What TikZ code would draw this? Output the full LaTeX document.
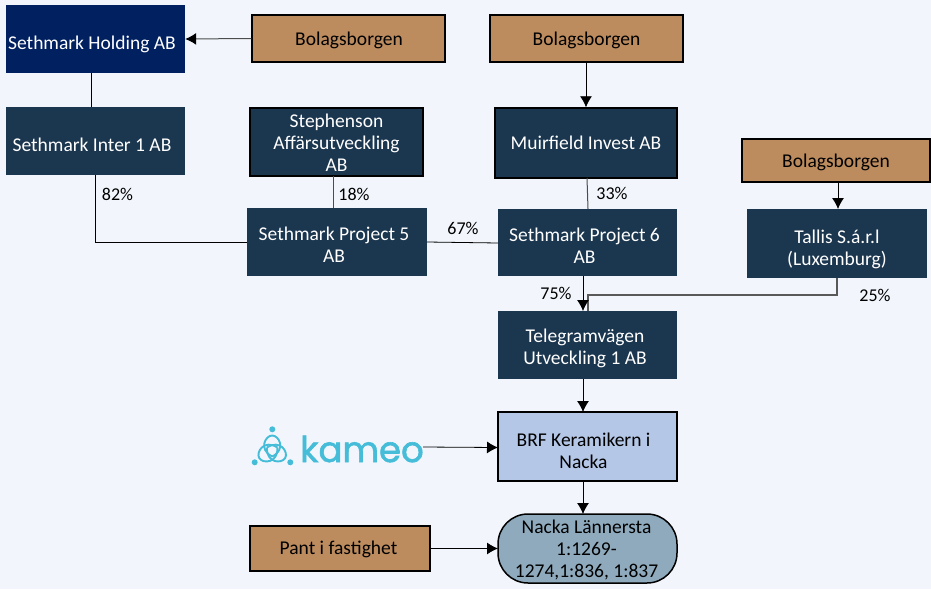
\documentclass[tikz,border=0pt]{standalone}
\usepackage{fontspec}
\setmainfont{Carlito}
\newfontfamily\logofont[FakeBold=1.6]{Poppins}
\usetikzlibrary{arrows.meta,calc}
\definecolor{bgc}{HTML}{F2F6FC}
\definecolor{navyc}{HTML}{002060}
\definecolor{darkc}{HTML}{1B364F}
\definecolor{tanc}{HTML}{BC8C5F}
\definecolor{bluec}{HTML}{B4C7E7}
\definecolor{greyc}{HTML}{8FAABD}
\definecolor{tealc}{HTML}{45BCD8}
\newcommand\tx[3]{\raisebox{#2}[\height][\depth]{\kern#1\begin{tabular}{@{}c@{}}#3\end{tabular}\kern-#1}}
\tikzset{
  boxat/.style n args={4}{minimum width=#3-#1,minimum height=#4-#2,at={({(#1+#3)/2},{(#2+#4)/2})}},
  base/.style={inner sep=0pt,font=\fontsize{19.5}{22}\selectfont},
  dark/.style={base,fill=darkc,text=white},
  darkb/.style={dark,draw=black,line width=1.5pt},
  tan/.style={base,fill=tanc,draw=black,line width=1.5pt,text=black},
  conn/.style={line width=0.8pt,draw=black},
  gconn/.style={line width=1pt,draw=black!70},
  arr/.style={conn,-{Latex[length=11pt,width=12pt,black]}},
  pct/.style={inner sep=0pt,font=\fontsize{18}{20}\selectfont,text=black}
}
\begin{document}
\begin{tikzpicture}[x=1pt,y=-1pt]
\useasboundingbox (0,0) rectangle (931,589);
\fill[bgc] (0,0) rectangle (931,589);
\node[base,fill=navyc,text=white,boxat={6}{5}{185}{73}] (holding) {\tx{-3.5pt}{-6pt}{Sethmark Holding AB}};
\node[tan,boxat={252}{15}{445}{62}] (bb1) {\tx{0.5pt}{-3pt}{Bolagsborgen}};
\node[tan,boxat={490}{15}{683}{62}] (bb2) {\tx{0pt}{-3pt}{Bolagsborgen}};
\node[dark,boxat={6}{107}{185}{175}] (inter) {\tx{-3.5pt}{-6pt}{Sethmark Inter 1 AB}};
\node[darkb,boxat={250}{108}{423}{176}] (steph) {\tx{0pt}{-3pt}{Stephenson\\Affärsutveckling\\AB}};
\node[darkb,boxat={495}{108}{677}{178}] (muir) {\tx{0pt}{-2pt}{Muirfield Invest AB}};
\node[tan,boxat={742}{139}{930}{182}] (bb3) {\tx{0pt}{-3pt}{Bolagsborgen}};
\node[dark,boxat={247}{208}{427}{276}] (p5) {\tx{-3pt}{-5.5pt}{Sethmark Project 5\\AB}};
\node[dark,boxat={498}{209}{677}{276}] (p6) {\tx{-3pt}{-6pt}{Sethmark Project 6\\AB}};
\node[dark,boxat={747}{209}{927}{278}] (tallis) {\tx{0pt}{-6.5pt}{Tallis S.á.r.l\\(Luxemburg)}};
\node[dark,boxat={498}{311}{677}{379}] (tele) {\tx{-2.5pt}{-4.5pt}{Telegramvägen\\Utveckling 1 AB}};
\node[base,fill=bluec,draw=black,line width=1.5pt,text=black,boxat={498}{412}{677}{481}] (brf) {\tx{-4pt}{-6.5pt}{BRF Keramikern i\\Nacka}};
\node[base,fill=greyc,draw=black,line width=1.5pt,text=black,rounded corners=30pt,boxat={498}{514}{677}{583}] (nacka) {\tx{-1pt}{-3pt}{Nacka Lännersta\\1:1269-\\1274,1:836, 1:837}};
\node[tan,boxat={250}{526}{430}{571}] (pant) {\tx{-1.5pt}{-2pt}{Pant i fastighet}};
% kameo logo
\node[inner sep=0pt,anchor=base,text=tealc,font=\logofont\fontsize{35.5}{36}\selectfont] (kameo) at (362,462) {kameo};
\fill[tealc] (272.3,429.3) circle (3);
\fill[tealc] (254.7,462.3) circle (3);
\fill[tealc] (290.3,462.3) circle (3);
\foreach \a in {0,120,240}{
  \draw[tealc,line width=1.9pt,shift={(272.2,450.5)},rotate=\a]
    (0,6) .. controls (-14,-1) and (-7,-15) .. (0,-15) .. controls (7,-15) and (14,-1) .. (0,6);
}
% connectors
\draw[conn] (holding.south -| 91.5,0) -- (inter.north -| 91.5,0);
\draw[arr,draw=black!70,line width=1pt] (bb1.west) -- (holding.east);
\draw[arr] (bb2.south) ++(-0.5,0) -- (muir.north);
\draw[arr] (838,182) -- (838,209);
\draw[gconn] (333,176) -- (333,208);
\draw[gconn] (587,178) -- (588,209);
\draw[conn] (95.5,175) -- (95.5,242) -- (p5.west |- 0,242);
\draw[conn] (427,242) -- (498,243);
\draw[conn,draw=black!65,line width=1.3pt] (837,278) -- (837,295) -- (588,295) -- (588,311);
\draw[arr] (583,276) -- (583,311);
\draw[arr] (583,379) -- (583,412);
\draw[arr] (583,481) -- (583,514);
\draw[arr] (423,447) -- (498,447.5);
\draw[arr] (pant.east) -- (498,548.5);
% labels
\node[pct] (l82) at (117.5,194) {82\%};
\node[pct] (l18) at (354,194) {18\%};
\node[pct] (l33) at (612,193) {33\%};
\node[pct] (l67) at (463,228) {67\%};
\node[pct] (l75) at (556,293) {75\%};
\node[pct] (l25) at (875,295) {25\%};
\end{tikzpicture}
\end{document}
